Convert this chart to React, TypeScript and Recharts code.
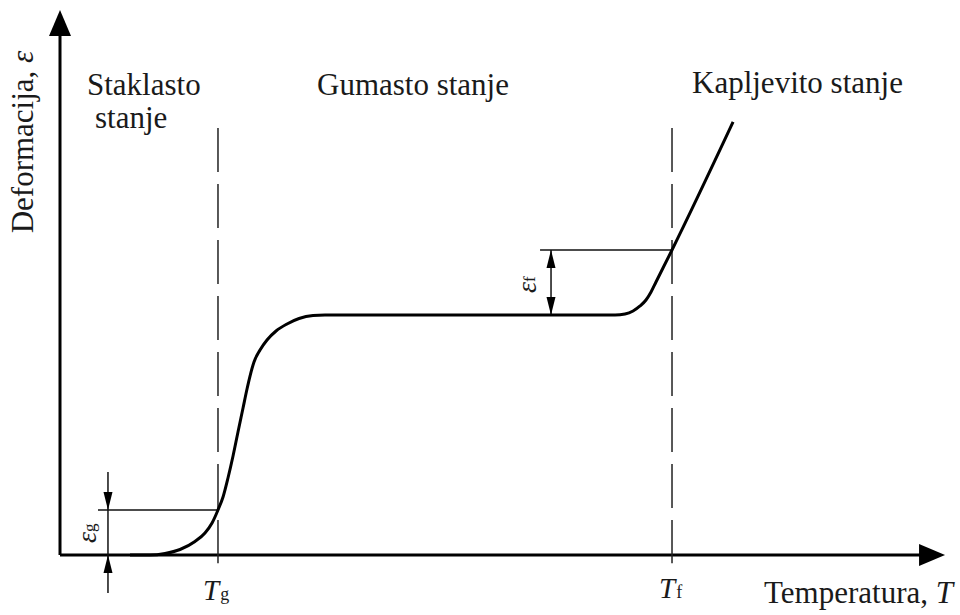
import React from "react";
import {
  ComposedChart,
  Line,
  XAxis,
  YAxis,
  ReferenceLine,
  Scatter,
  Customized,
} from "recharts";

// Curve: temperature (arbitrary units) vs deformation (arbitrary units)
const curveT = [7.91, 10.17, 11.86, 13.56, 15.25, 16.38, 17.18, 17.85, 18.42, 18.98, 19.55, 20.11, 20.68, 21.13, 21.47, 21.92, 22.6, 23.39, 24.41, 25.65, 27.01, 28.59, 29.94, 45.0, 62.71, 63.84, 64.75, 65.54, 66.21, 66.78, 67.34, 69.15, 76.05];
const curveE = [0, 0, 0.28, 1.01, 2.48, 4.04, 5.87, 8.26, 10.64, 14.13, 18.17, 22.57, 26.97, 30.46, 32.84, 35.41, 37.61, 39.45, 41.1, 42.39, 43.39, 43.94, 44.04, 44.04, 44.04, 44.22, 44.77, 45.69, 46.79, 48.26, 50.09, 55.96, 79.45];

const Tg = 17.85;
const Tf = 69.15;
const epsG = 8.26;
const epsPlateau = 44.04;
const epsF = 55.96;
const guideTop = 78.35;
const guideBottom = -1.5;

const xDomain: [number, number] = [-6.78, 101.69];
const yDomain: [number, number] = [-11.01, 101.83];

// arrow heads: position and direction
const axisArrows = [
  { x: 100, y: 0, dir: "right" },
  { x: 0, y: 100, dir: "up" },
];
const dimArrows = [
  { x: 5.42, y: epsG, dir: "down" },
  { x: 5.42, y: 0, dir: "up" },
  { x: 55.48, y: epsF, dir: "up" },
  { x: 55.48, y: epsPlateau, dir: "down" },
];

const curveData = curveT.map((t, i) => ({ x: t, y: curveE[i] }));

const FONT = "'Liberation Serif', 'DejaVu Serif', serif";

function arrowShape(len: number, half: number) {
  return (props: any) => {
    const { cx, cy, payload } = props;
    const d = payload.dir;
    let pts = "";
    if (d === "right") pts = `${cx},${cy} ${cx - len},${cy - half} ${cx - len},${cy + half}`;
    if (d === "left") pts = `${cx},${cy} ${cx + len},${cy - half} ${cx + len},${cy + half}`;
    if (d === "up") pts = `${cx},${cy} ${cx - half},${cy + len} ${cx + half},${cy + len}`;
    if (d === "down") pts = `${cx},${cy} ${cx - half},${cy - len} ${cx + half},${cy - len}`;
    return <polygon points={pts} fill="#000" stroke="none" />;
  };
}

const Labels = () => (
  <g fontFamily={FONT} fill="#1a1a1a">
    <text x={87} y={95} fontSize={31}>Staklasto</text>
    <text x={95} y={128} fontSize={31}>stanje</text>
    <text x={317} y={95} fontSize={31}>Gumasto stanje</text>
    <text x={692} y={93} fontSize={31}>Kapljevito stanje</text>
    <text x={953} y={603} fontSize={31} textAnchor="end">
      Temperatura, <tspan fontStyle="italic">T</tspan>
    </text>
    <text transform="translate(33,142) rotate(-90)" fontSize={31} textAnchor="middle">
      Deformacija, <tspan fontStyle="italic">ε</tspan>
    </text>
    <text x={203} y={600} fontSize={29} fontStyle="italic">
      T<tspan fontSize={18} fontStyle="normal" dx={1}>g</tspan>
    </text>
    <text x={659} y={598} fontSize={29} fontStyle="italic">
      T<tspan fontSize={18} fontStyle="normal" dx={1}>f</tspan>
    </text>
    <text transform="translate(96,543) rotate(-90)" fontSize={28} fontStyle="italic">
      ε<tspan fontSize={17} fontStyle="normal" dy={-1}>g</tspan>
    </text>
    <text transform="translate(536,293) rotate(-90)" fontSize={28} fontStyle="italic">
      ε<tspan fontSize={17} fontStyle="normal" dy={-1}>f</tspan>
    </text>
  </g>
);

export default function App() {
  return (
    <div style={{ position: "absolute", left: 0, top: 0, background: "#fff" }}>
      <ComposedChart
        width={960}
        height={615}
        data={curveData}
        margin={{ top: 0, right: 0, bottom: 0, left: 0 }}
      >
        <XAxis type="number" dataKey="x" domain={xDomain} hide allowDataOverflow />
        <YAxis type="number" dataKey="y" domain={yDomain} hide allowDataOverflow />

        {/* axes */}
        <ReferenceLine segment={[{ x: 0, y: 0 }, { x: 98, y: 0 }]} stroke="#000" strokeWidth={3} />
        <ReferenceLine segment={[{ x: 0, y: 0 }, { x: 0, y: 97 }]} stroke="#000" strokeWidth={3} />

        {/* dashed guides */}
        <ReferenceLine segment={[{ x: Tg, y: guideTop }, { x: Tg, y: guideBottom }]} stroke="#222" strokeWidth={1.5} strokeDasharray="44 12" />
        <ReferenceLine segment={[{ x: Tf, y: guideTop }, { x: Tf, y: guideBottom }]} stroke="#222" strokeWidth={1.5} strokeDasharray="44 12" />

        {/* dimension lines */}
        <ReferenceLine segment={[{ x: 4.29, y: epsG }, { x: Tg, y: epsG }]} stroke="#111" strokeWidth={1.5} />
        <ReferenceLine segment={[{ x: 5.42, y: 15.23 }, { x: 5.42, y: -6.97 }]} stroke="#111" strokeWidth={1.5} />
        <ReferenceLine segment={[{ x: 54.24, y: epsF }, { x: Tf, y: epsF }]} stroke="#111" strokeWidth={1.5} />
        <ReferenceLine segment={[{ x: 55.48, y: epsF }, { x: 55.48, y: epsPlateau }]} stroke="#111" strokeWidth={1.5} />

        <Line
          data={curveData}
          dataKey="y"
          type="monotone"
          stroke="#000"
          strokeWidth={3}
          dot={false}
          activeDot={false}
          isAnimationActive={false}
        />

        <Scatter data={axisArrows} dataKey="y" shape={arrowShape(26, 11)} isAnimationActive={false} />
        <Scatter data={dimArrows} dataKey="y" shape={arrowShape(18, 4.5)} isAnimationActive={false} />

        <Customized component={Labels} />
      </ComposedChart>
    </div>
  );
}
